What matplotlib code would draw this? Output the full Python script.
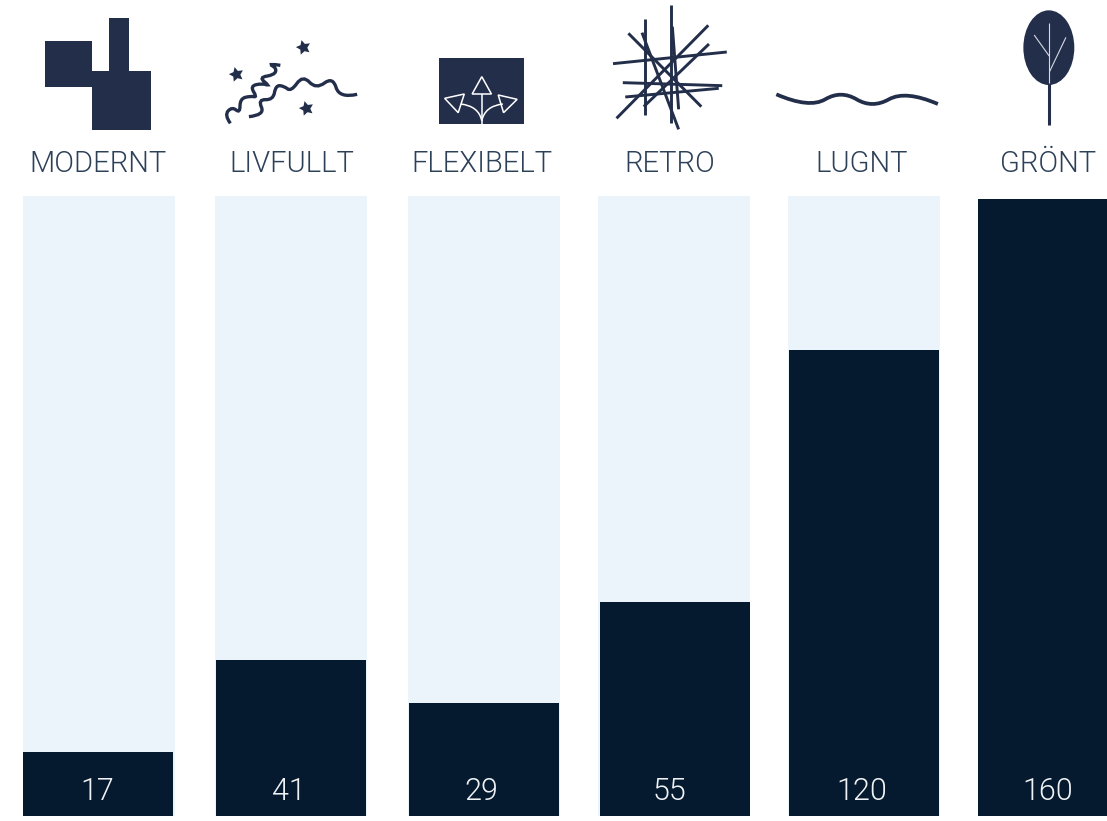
# plot.py

import matplotlib
matplotlib.use("Agg")
import matplotlib.pyplot as plt
from matplotlib.patches import Ellipse, PathPatch, Polygon, Rectangle
from matplotlib.path import Path

categories = ["MODERNT", "LIVFULLT", "FLEXIBELT", "RETRO", "LUGNT", "GRÖNT"]
labels = [17, 41, 29, 55, 120, 160]
# bar lengths, they differ a little from the printed numbers
bar_values = [16.6, 40.5, 29.3, 55.5, 120.8, 160.0]
track_value = 160.8

W, H = 1107, 821
DARK = "#051a2e"
TRACK = "#ebf3fb"
ICON = "#232f4a"
LABEL = "#2c4058"
UNITS_TO_PX = 3.856
FONT = "Roboto"
FONT_WEIGHT = 300

bar_left = [23, 216, 409, 600, 789, 978]
bar_width = [150, 150, 150, 150, 150, 129]
track_left = [23, 215, 408, 598, 788]
label_x = [98, 292, 482, 670, 862, 1048]
number_x = [97, 289, 481, 669, 862, 1048]


# icon points were traced on zoomed crops, these bring them back to pixels
def left_crop(pts):
    return [(x / 2.8, y / 3) for x, y in pts]


def right_crop(pts):
    return [(560 + x / 2.866, y / 3) for x, y in pts]


def smooth(ax, p, lw, color=ICON):
    # quadratic curve through midpoints
    verts = [p[0]]
    codes = [Path.MOVETO]
    for i in range(1, len(p) - 1):
        end = p[i + 1] if i == len(p) - 2 else ((p[i][0] + p[i + 1][0]) / 2, (p[i][1] + p[i + 1][1]) / 2)
        verts += [p[i], end]
        codes += [Path.CURVE3, Path.CURVE3]
    ax.add_patch(PathPatch(Path(verts, codes), fill=False, ec=color, lw=lw, capstyle="butt"))


def line(ax, p, lw=2.1, color=ICON):
    ax.plot([p[0][0], p[1][0]], [p[0][1], p[1][1]], color=color, lw=lw, solid_capstyle="butt")


def draw_icons(ax):
    # modernt
    ax.add_patch(Polygon(left_crop([(127, 123), (258, 123), (258, 214), (305, 214), (305, 53), (361, 53),
                                    (361, 214), (423, 214), (423, 390), (258, 390), (258, 260), (127, 260)]),
                         fc=ICON, ec="none"))

    # livfullt
    smooth(ax, left_crop([(645, 370), (628, 345), (650, 320), (672, 340), (672, 296), (702, 288), (720, 292),
                          (700, 258), (735, 250), (755, 258), (725, 232), (768, 225), (775, 205), (750, 190),
                          (785, 196)]), 2.4)
    smooth(ax, left_crop([(697, 350), (742, 345), (722, 298), (765, 300), (772, 256), (795, 258), (815, 275),
                          (848, 225), (885, 268), (932, 230), (950, 295), (1000, 283)]), 2.4)
    for x, y in left_crop([(847, 141), (660, 222), (858, 325)]):
        ax.plot(x, y, marker=(5, 1, 15), ms=11, color=ICON, mec="none")

    # flexibelt
    x0, y0 = left_crop([(1229, 174)])[0]
    x1, y1 = left_crop([(1467, 372)])[0]
    ax.add_patch(Rectangle((x0, y0), x1 - x0, y1 - y0, fc=ICON, ec="none"))
    line(ax, left_crop([(1349, 372), (1349, 282)]), lw=1.1, color="white")
    smooth(ax, left_crop([(1349, 362), (1340, 318), (1290, 312)]), 1.1, "white")
    smooth(ax, left_crop([(1349, 362), (1358, 318), (1408, 312)]), 1.1, "white")
    for tri in [[(1349, 230), (1322, 282), (1376, 282)],
                [(1245, 295), (1300, 282), (1283, 338)],
                [(1395, 285), (1448, 298), (1410, 338)]]:
        ax.add_patch(Polygon(left_crop(tri), fc="none", ec="white", lw=1.1))

    # retro
    sticks = [[(317, 15), (317, 370)], [(243, 58), (243, 345)], [(235, 98), (340, 388)],
              [(196, 100), (405, 320)], [(425, 76), (162, 355)], [(427, 132), (240, 320)],
              [(152, 191), (478, 156)], [(180, 248), (465, 257)], [(187, 291), (455, 265)],
              [(322, 80), (340, 328)]]
    for s in sticks:
        line(ax, right_crop(s))

    # lugnt
    smooth(ax, right_crop([(620, 283), (715, 326), (805, 270), (895, 326), (990, 270), (1083, 312)]), 2.7)

    # gront
    (cx, cy), = right_crop([(1401, 143)])
    ax.add_patch(Ellipse((cx, cy), 146 / 2.866, 224 / 3, fc=ICON, ec="none"))
    line(ax, right_crop([(1401, 250), (1401, 374)]), lw=2.2)
    for b in [[(1402, 70), (1402, 250)], [(1359, 105), (1402, 168)], [(1450, 112), (1403, 215)]]:
        line(ax, right_crop(b), lw=0.8, color="#d5d9e0")


fig = plt.figure(figsize=(W / 100, H / 100), dpi=100)

# bars: x in pixels, y in data units with the baseline at pixel 816
ax = fig.add_axes([0, 0, 1, 1])
ax.set_xlim(0, W)
ax.set_ylim(-(H - 816) / UNITS_TO_PX, 816 / UNITS_TO_PX)
ax.axis("off")

ax.bar(track_left, [track_value] * len(track_left), width=152, align="edge", color=TRACK)
ax.bar(bar_left, bar_values, width=bar_width, align="edge", color=DARK)

for x, val in zip(number_x, labels):
    ax.annotate(str(val), (x, 0), xytext=(0, 18), textcoords="offset points", ha="center",
                va="center", color="#f0f3f6", fontsize=22, family=FONT, fontweight=FONT_WEIGHT)

# icons and headings, pixel coordinates from the top left
top = fig.add_axes([0, 0, 1, 1])
top.set_xlim(0, W)
top.set_ylim(H, 0)
top.axis("off")
top.patch.set_alpha(0)

draw_icons(top)

for x, name in zip(label_x, categories):
    top.text(x, 164, name, ha="center", va="center", color=LABEL, fontsize=21, family=FONT,
             fontweight=FONT_WEIGHT)

fig.savefig("out.png", dpi=100)
